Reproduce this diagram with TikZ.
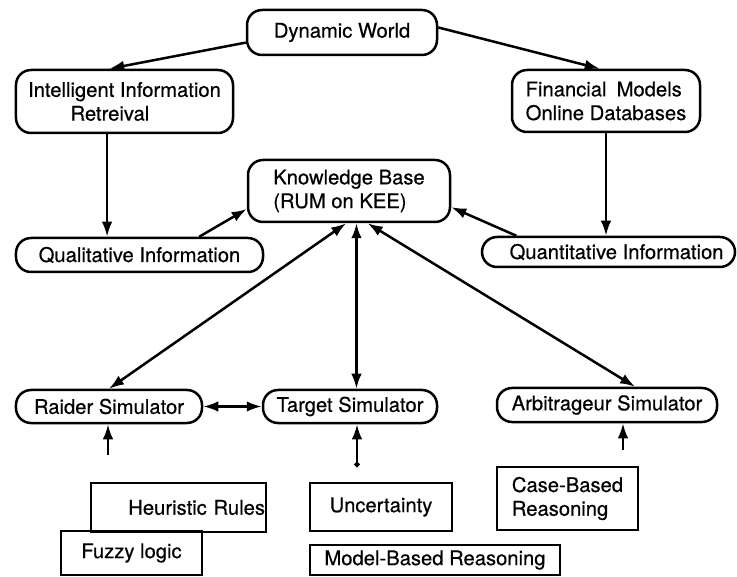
\documentclass[tikz,border=0pt]{standalone}
\usepackage{fontspec}
\newfontfamily\diagfont[FakeBold=0.5]{TeX Gyre Heros}
\usetikzlibrary{arrows.meta}

\begin{document}
\begin{tikzpicture}[x=0.2mm, y=-0.2mm,
	rbox/.style={draw, line width=0.5mm, rounded corners=3mm, inner sep=0pt, font=\diagfont\fontsize{11.5}{13.5}\selectfont},
	sbox/.style={draw, line width=0.45mm, inner sep=0pt, font=\diagfont\fontsize{11.5}{13.5}\selectfont},
	link/.style={line width=0.5mm, -{Latex[length=3mm, width=2.1mm]}},
	both/.style={line width=0.5mm, {Latex[length=3mm, width=2.1mm]}-{Latex[length=3mm, width=2.1mm]}}]
			%%%%% START %%%%%
			
			\useasboundingbox (0, 0) rectangle (737, 577);
			
			\node[rbox, minimum width=38mm, minimum height=9mm] (world) at (342, 32.5) {Dynamic World};
			\node[rbox, minimum width=43.4mm, minimum height=12.6mm, align=left] (iir) at (124.5, 101.5) {Intelligent Information\\\hspace*{2.1em}Retreival};
			\node[rbox, minimum width=37.6mm, minimum height=12.4mm, align=left] (fin) at (606, 101) {Financial\enspace Models\\Online Databases};
			\node[rbox, minimum width=40.4mm, minimum height=12.4mm, align=left] (kb) at (349, 191) {Knowledge Base\\(RUM on KEE)};
			
			\node[rbox, minimum width=49.4mm, minimum height=6.8mm] (qual) at (139.5, 255) {Qualitative Information};
			\node[rbox, minimum width=50.6mm, minimum height=6mm] (quan) at (608.5, 252) {\hspace*{0.8em}Quantitative Information};
			
			\node[rbox, minimum width=37.2mm, minimum height=6.6mm] (raider) at (109, 406.5) {Raider Simulator};
			\node[rbox, minimum width=34.8mm, minimum height=6.6mm] (target) at (350, 406.5) {Target Simulator};
			\node[rbox, minimum width=44mm, minimum height=6.8mm] (arb) at (607, 405) {Arbitrageur Simulator};
			
			\node[sbox, minimum width=35mm, minimum height=9.8mm, text width=34.6mm, align=right] (heur) at (178.5, 507.5) {Heuristic Rules};
			\node[sbox, minimum width=28.2mm, minimum height=8.8mm] (fuzzy) at (131.5, 553) {Fuzzy logic};
			\node[sbox, minimum width=28.4mm, minimum height=9.6mm] (unc) at (381, 507) {Uncertainty};
			\node[sbox, minimum width=50mm, minimum height=6mm] (mbr) at (435, 560) {Model-Based Reasoning};
			\node[sbox, minimum width=28.2mm, minimum height=12.6mm, align=left] (cbr) at (567.5, 498.5) {Case-Based\\Reasoning};
			
			\draw[link] (world.186) -- (iir.115);
			\draw[link] (world.3) -- (fin.101);
			\draw[link] (iir.242) -- (iir.242 |- qual.north);
			\draw[link] (fin.south) -- (fin.south |- quan.north);
			\draw[link] (qual.17) -- (kb.190);
			\draw[link] (quan.170) -- (kb.351);
			
			\draw[both] (kb.265) -- (raider.north);
			\draw[both] (target.70 |- kb.south) -- (target.70);
			\draw[both] (kb.300) -- (arb.33);
			\draw[both] (raider.east) -- (target.west);
			
			\coordinate (raiderin) at (108, 455);
			\coordinate (targetin) at (357, 467);
			\coordinate (arbin) at (623, 450);
			\draw[link] (raiderin) -- (raiderin |- raider.south);
			\draw[line width=0.5mm, {Circle[length=1mm]}-{Latex[length=3mm, width=2.1mm]}] (targetin) -- (targetin |- target.south);
			\draw[link] (arbin) -- (arbin |- arb.south);
			
			%%%%% END %%%%%
\end{tikzpicture}
\end{document}
